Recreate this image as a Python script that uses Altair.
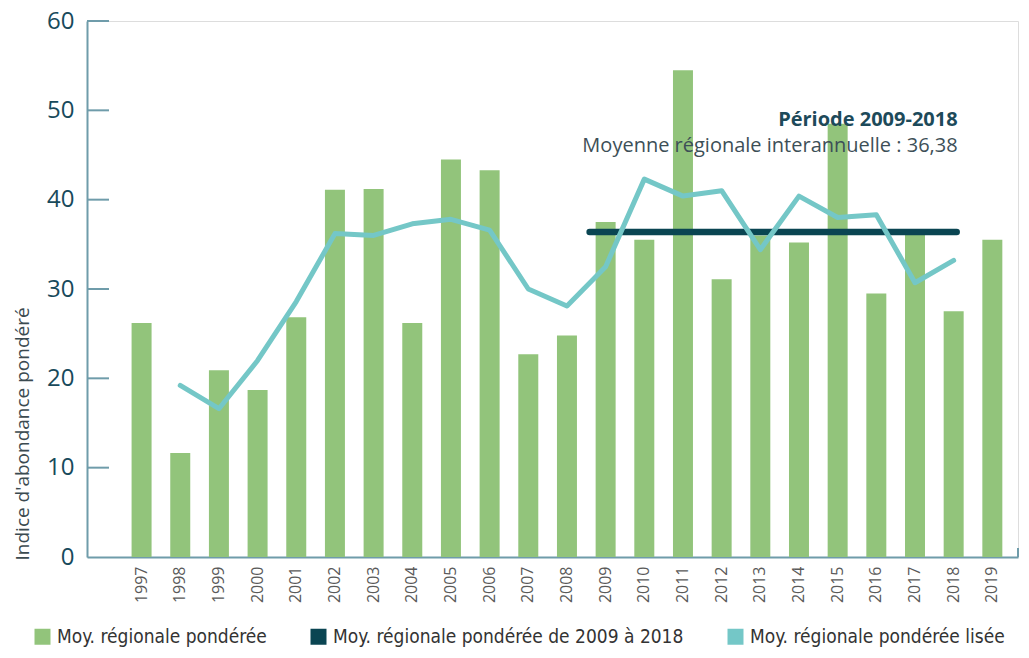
import altair as alt
import pandas as pd

years = [str(y) for y in range(1997, 2020)]
bar_values = [26.2, 11.65, 20.9, 18.7, 26.85, 41.1, 41.2, 26.2, 44.5, 43.3, 22.7, 24.8,
              37.5, 35.5, 54.5, 31.1, 36.0, 35.2, 48.5, 29.5, 36.2, 27.5, 35.5]
smooth_years = [str(y) for y in range(1998, 2019)]
smooth_values = [19.2, 16.6, 22.0, 28.6, 36.2, 36.0, 37.3, 37.8, 36.6, 30.0, 28.1,
                 32.5, 42.3, 40.4, 41.0, 34.4, 40.4, 38.0, 38.3, 30.7, 33.2]
mean_start, mean_end, mean_value = "2009", "2018", 36.38
y_ticks = [0, 10, 20, 30, 40, 50, 60]

label_bar = "Moy. régionale pondérée"
label_mean = "Moy. régionale pondérée de 2009 à 2018"
label_smooth = "Moy. régionale pondérée lisée"
annot_title = "Période 2009-2018"
annot_text = "Moyenne régionale interannuelle : 36,38"
y_title = "Indice d'abondance pondéré"

c_bar, c_mean, c_smooth = "#92c47b", "#0a4552", "#74c7c7"
c_axis = "#6f9caa"
c_ylab = "#184a5b"

bar_df = pd.DataFrame({"year": years, "value": bar_values, "series": label_bar})
smooth_df = pd.DataFrame({"year": smooth_years, "value": smooth_values})
mean_df = pd.DataFrame({"start": [mean_start], "end": [mean_end], "value": [mean_value]})
tick_df = pd.DataFrame({"v": y_ticks[1:]})
annot_df = pd.DataFrame({"year": [mean_end, mean_end], "v": [48.2, 45.3],
                         "t": [annot_title, annot_text], "w": ["bold", "normal"]})

xscale = alt.Scale(domain=years, paddingInner=0.483, paddingOuter=0.779, align=0.74)
yscale = alt.Scale(domain=[0, 60], nice=False)

x_axis = alt.Axis(title=None, labelAngle=270, labelFontSize=16, labelColor="#5a5a5a",
                  labelFont="Open Sans", ticks=False, domainColor=c_axis, domainWidth=2,
                  labelPadding=9, grid=False)
y_axis = alt.Axis(values=y_ticks, ticks=False, labelPadding=13, labelFontSize=24,
                  labelColor=c_ylab, labelFont="Open Sans", domainColor=c_axis, domainWidth=2,
                  grid=False, title=y_title, titleFontSize=19, titleFontWeight="normal",
                  titleColor="#3b4a50", titleFont="Open Sans", titleAngle=270,
                  titleX=-65, titleY=539, titleAlign="left", titleBaseline="middle")

bars = alt.Chart(bar_df).mark_bar().encode(
    x=alt.X("year:O", scale=xscale, axis=x_axis),
    y=alt.Y("value:Q", scale=yscale, axis=y_axis),
    color=alt.Color("series:N",
                    scale=alt.Scale(domain=[label_bar, label_mean, label_smooth],
                                    range=[c_bar, c_mean, c_smooth]),
                    legend=alt.Legend(title=None, orient="none", legendX=-54, legendY=606,
                                      direction="horizontal", symbolType="square",
                                      symbolSize=256, symbolStrokeWidth=0, symbolOpacity=1,
                                      labelFontSize=19, labelFont="DejaVu Sans Condensed",
                                      labelColor="#333333", columnPadding=42, labelOffset=5,
                                      labelLimit=600)),
)

ticks = alt.Chart(tick_df).mark_rule(color=c_axis, strokeWidth=2).encode(
    y=alt.Y("v:Q", scale=yscale, axis=y_axis),
    x=alt.value(0), x2=alt.value(22),
)

end_tick = alt.Chart(tick_df).mark_rule(color=c_axis, strokeWidth=2).encode(
    x=alt.value(931), y=alt.value(527), y2=alt.value(536),
)

mean_rule = alt.Chart(mean_df).mark_rule(color=c_mean, strokeWidth=6.5, strokeCap="round",
                                         xOffset=-16, x2Offset=3).encode(
    x=alt.X("start:O", scale=xscale, axis=x_axis),
    x2="end:O",
    y=alt.Y("value:Q", scale=yscale, axis=y_axis),
)

smooth = alt.Chart(smooth_df).mark_line(color=c_smooth, strokeWidth=5, strokeJoin="round",
                                        strokeCap="round").encode(
    x=alt.X("year:O", scale=xscale, axis=x_axis),
    y=alt.Y("value:Q", scale=yscale, axis=y_axis),
)

annot_bold = alt.Chart(annot_df[annot_df.w == "bold"]).mark_text(
    align="right", baseline="alphabetic", font="Open Sans", fontSize=20, fontWeight="bold",
    color="#1d4a5a", dx=4).encode(
    x=alt.X("year:O", scale=xscale, axis=x_axis),
    y=alt.Y("v:Q", scale=yscale, axis=y_axis),
    text="t:N",
)
annot_norm = alt.Chart(annot_df[annot_df.w == "normal"]).mark_text(
    align="right", baseline="alphabetic", font="Open Sans", fontSize=20,
    color="#3d4f57", dx=4).encode(
    x=alt.X("year:O", scale=xscale, axis=x_axis),
    y=alt.Y("v:Q", scale=yscale, axis=y_axis),
    text="t:N",
)

chart = alt.layer(bars, ticks, end_tick, mean_rule, smooth, annot_bold, annot_norm).properties(
    width=931, height=536,
    autosize=alt.AutoSizeParams(type="none"),
    padding={"left": 79, "top": 13, "right": 3, "bottom": 90},
).configure_view(stroke=None).configure(background="white")

chart.save("out.html", embed_options={"renderer": "svg", "actions": False})
